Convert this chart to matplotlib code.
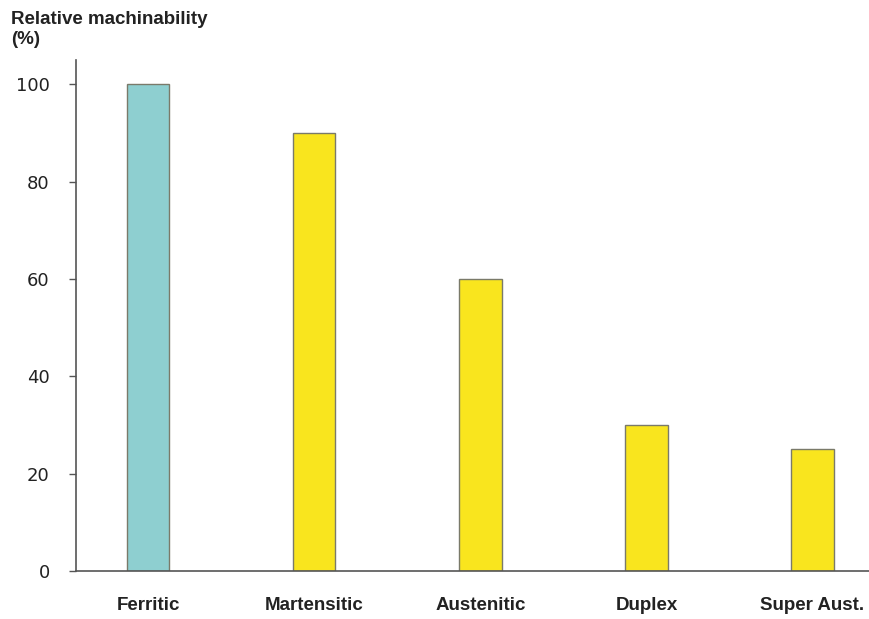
"""Relative machinability of stainless steel grades"""
import matplotlib.pyplot as plt

categories = ['Ferritic', 'Martensitic', 'Austenitic', 'Duplex', 'Super Aust.']
machinability = [100, 90, 60, 30, 25]
bar_colors = ['#8ECFD0', '#F9E51E', '#F9E51E', '#F9E51E', '#F9E51E']
y_ticks = [0, 20, 40, 60, 80, 100]

fig = plt.figure(figsize=(8.69, 6.19), dpi=100)
ax = fig.add_axes([0.0875, 0.0775, 0.9125, 0.8255])

x = range(len(categories))
ax.bar(x, machinability, width=0.255, color=bar_colors,
       edgecolor='#7a7a6a', linewidth=1.0, zorder=2)

ax.set_xlim(-0.434, 4.34)
ax.set_ylim(0, 105)
ax.set_yticks(y_ticks)
ax.set_yticklabels([str(v) for v in y_ticks], fontsize=13, color='#222222')
ax.set_xticks(list(x))
ax.set_xticklabels(categories, fontsize=13.5, fontweight='bold',
                   family='Liberation Sans', color='#222222')

ax.tick_params(axis='y', length=5, width=1, color='#555555', pad=14)
ax.tick_params(axis='x', length=0, pad=19)

for side in ['top', 'right']:
    ax.spines[side].set_visible(False)
for side in ['left', 'bottom']:
    ax.spines[side].set_color('#555555')
    ax.spines[side].set_linewidth(1.2)

fig.text(0.013, 0.982, 'Relative machinability\n(%)', fontsize=13.5,
         fontweight='bold', va='top', ha='left', color='#222222',
         family='Liberation Sans', linespacing=1.2)

plt.savefig('out.png', dpi=100, facecolor='white')
plt.close()
